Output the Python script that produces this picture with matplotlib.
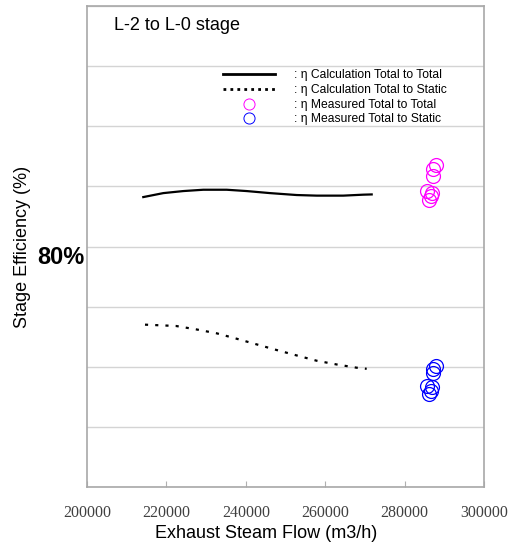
import numpy as np
import matplotlib
matplotlib.use("Agg")
import matplotlib.pyplot as plt
from matplotlib.lines import Line2D
from matplotlib.transforms import blended_transform_factory, offset_copy

plt.rcParams["font.family"] = ["Liberation Sans", "DejaVu Sans"]

# calculated stage efficiency (%)
calc_tt_flow = [214180, 219220, 224260, 229290, 235190, 240230, 246100,
                252820, 257860, 264560, 269600, 271710]
calc_tt_eff = [84.11, 84.44, 84.61, 84.72, 84.72, 84.61, 84.44,
               84.28, 84.23, 84.23, 84.31, 84.33]

calc_ts_flow = [214610, 222420, 227460, 232670, 237700, 242740, 247780,
                252820, 257860, 262890, 267930, 270450]
calc_ts_eff = [73.50, 73.39, 73.11, 72.78, 72.33, 71.86, 71.39,
               70.94, 70.50, 70.19, 69.92, 69.83]

# measured points
meas_flow = [287910, 287230, 287080, 285720, 286830, 286580, 286150]
meas_tt_eff = [86.75, 86.42, 85.83, 84.61, 84.44, 84.17, 83.83]
meas_ts_eff = [70.08, 69.81, 69.44, 68.42, 68.28, 68.00, 67.73]

xticks = [200000, 220000, 240000, 260000, 280000, 300000]
ygrid = [60, 65, 70, 75, 80, 85, 90, 95, 100]

fig = plt.figure(figsize=(5.14, 5.44), dpi=100)
ax = fig.add_axes([87 / 514, 57 / 544, 397 / 514, 481 / 544])

ax.plot(calc_tt_flow, calc_tt_eff, color="black", lw=1.6, zorder=3)
ax.plot(calc_ts_flow, calc_ts_eff, color="black", lw=1.6,
        linestyle=(0, (1.4, 3.2)), zorder=3)
ax.plot(meas_flow, meas_tt_eff, "o", mfc="none", mec="#ff00ff", ms=10, mew=0.9, zorder=4)
ax.plot(meas_flow, meas_ts_eff, "o", mfc="none", mec="#0000ff", ms=10, mew=0.9, zorder=4)

ax.set_xlim(200000, 300000)
ax.set_ylim(60, 100)
ax.set_xticks(xticks)
ax.set_xticklabels([str(v) for v in xticks], family="Liberation Serif",
                   fontsize=11.5, color="#404040")
ax.tick_params(axis="x", direction="in", length=4, color="#b0b0b0", pad=13)
ax.set_yticks(ygrid)
ax.set_yticklabels([])
ax.tick_params(axis="y", length=0)
ax.grid(axis="y", color="#d4d4d4", lw=1)
for s in ax.spines.values():
    s.set_color("#a8a8a8")
    s.set_linewidth(1.2)

trans = offset_copy(blended_transform_factory(ax.transAxes, ax.transData),
                    fig=fig, x=-3, y=0, units="dots")
ax.text(0, 80, "80%", transform=trans, ha="right", va="top",
        fontsize=17, fontweight="bold")

ax.set_xlabel("Exhaust Steam Flow (m3/h)", fontsize=13)
ax.xaxis.set_label_coords((266 - 87) / 397, -0.08)
ax.set_ylabel("Stage Efficiency (%)", fontsize=13)
ax.yaxis.set_label_coords(-0.142, 0.5)

ax.text(0.068, 0.96, "L-2 to L-0 stage", transform=ax.transAxes,
        fontsize=13, va="center", ha="left")

handles = [
    Line2D([], [], color="black", lw=2),
    Line2D([], [], color="black", lw=2, linestyle=(0, (1.0, 1.5))),
    Line2D([], [], marker="o", ls="none", mfc="none", mec="#ff00ff", ms=8, mew=0.7),
    Line2D([], [], marker="o", ls="none", mfc="none", mec="#0000ff", ms=8, mew=0.7),
]
labels = [": \u03b7 Calculation Total to Total",
          ": \u03b7 Calculation Total to Static",
          ": \u03b7 Measured Total to Total",
          ": \u03b7 Measured Total to Static"]
ax.legend(handles, labels, loc="upper left", bbox_to_anchor=(0.343, 0.868),
          frameon=False, fontsize=8.7, handlelength=4.3, handletextpad=1.6,
          labelspacing=0.22, borderpad=0, borderaxespad=0)

fig.savefig("out.png", dpi=100)
